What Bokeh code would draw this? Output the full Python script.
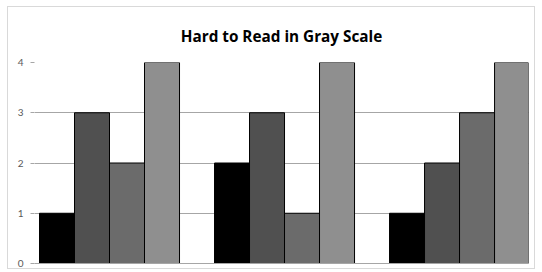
from bokeh.plotting import figure
from bokeh.models import ColumnDataSource, Range1d, FixedTicker, Title, InlineStyleSheet
from bokeh.embed import file_html
from bokeh.resources import INLINE

categories = ["A", "B", "C"]
series1 = [1, 2, 1]
series2 = [3, 3, 2]
series3 = [2, 1, 3]
series4 = [4, 4, 4]
series = [series1, series2, series3, series4]
colors = ["#000000", "#505050", "#6b6b6b", "#8f8f8f"]
offsets = [-0.3, -0.1, 0.1, 0.3]
y_ticks = [0, 1, 2, 3, 4]

p = figure(width=528, height=263, output_backend="svg", toolbar_location=None,
           x_range=Range1d(-0.4286, 2.394), y_range=Range1d(0, 4),
           min_border_left=26, min_border_right=8, min_border_top=55, min_border_bottom=7)
p.stylesheets = [InlineStyleSheet(css=":host { margin-left: 7px; margin-top: 6px; border: 1px solid #d9d9d9; }")]
p.outline_line_color = None
p.background_fill_color = "white"

t = Title(text="Hard to Read in Gray Scale", align="center", text_font="Open Sans",
          text_font_size="15.3px", text_font_style="bold", text_color="#000000")
p.title = t
p.title.standoff = 33

xs = list(range(len(categories)))
for vals, col, off in zip(series, colors, offsets):
    src = ColumnDataSource(dict(x=[x + off for x in xs], top=vals))
    p.vbar(x="x", top="top", bottom=0, width=0.2, source=src,
           fill_color=col, line_color="#000000", line_width=1)

p.xgrid.grid_line_color = None
p.ygrid.grid_line_color = "#a6a6a6"
p.ygrid.ticker = FixedTicker(ticks=y_ticks)
p.yaxis.ticker = FixedTicker(ticks=y_ticks)
p.yaxis.axis_line_color = None
p.yaxis.major_tick_line_color = "#a6a6a6"
p.yaxis.major_tick_out = 4
p.yaxis.major_tick_in = 0
p.yaxis.minor_tick_line_color = None
p.yaxis.major_label_standoff = 7
p.yaxis.major_label_text_font = "Lato"
p.yaxis.major_label_text_font_size = "10px"
p.yaxis.major_label_text_color = "#595959"

p.xaxis.ticker = FixedTicker(ticks=[])
p.xaxis.axis_line_color = "#a6a6a6"
p.xaxis.major_tick_line_color = None
p.xaxis.minor_tick_line_color = None
p.xaxis.major_label_standoff = 0

open("out.html", "w").write(file_html(p, INLINE))
